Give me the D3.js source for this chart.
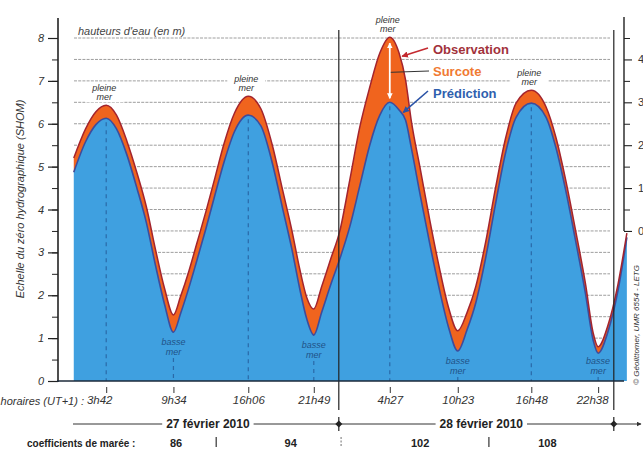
<!DOCTYPE html>
<html><head><meta charset="utf-8">
<script src="https://cdn.jsdelivr.net/npm/d3@7/dist/d3.min.js"></script>
<style>
body{margin:0;background:#fff}
svg{display:block}
text{font-family:"Liberation Sans",Arial,Helvetica,sans-serif}
</style>
</head><body>
<svg id="c" width="643" height="454"></svg>
<script>
// ---- data (hours since 27 Feb 2010 00:00, heights in m) ----
const heures = [0.87,1.90,2.80,3.70,4.60,5.50,6.40,7.20,8.00,8.80,9.567,10.20,10.90,11.60,12.40,13.20,14.00,14.90,16.10,
  17.20,18.20,19.10,19.90,20.60,21.20,21.817,22.50,23.30,24.09,24.96,25.83,26.70,27.58,28.45,
  29.26,29.83,30.32,31.13,31.94,32.76,33.57,34.383,35.20,35.95,36.80,37.69,38.58,39.47,40.80,
  42.09,42.94,43.80,44.66,45.52,46.20,46.633,47.49,48.36,49.14];
const observation = [5.20,5.88,6.28,6.43,6.20,5.60,4.84,4.07,3.07,2.15,1.54,1.98,2.55,3.20,3.95,4.75,5.55,6.25,6.64,
  6.35,5.50,4.45,3.52,2.60,1.95,1.68,2.20,2.85,3.50,4.69,5.92,6.85,7.65,8.02,
  7.65,7.02,6.08,4.92,3.75,2.66,1.72,1.17,1.60,2.20,3.22,4.52,5.69,6.48,6.78,
  6.39,5.69,4.69,3.52,2.28,1.12,0.80,1.30,2.25,3.45];
const prediction = [4.87,5.58,5.98,6.13,5.88,5.28,4.48,3.70,2.70,1.78,1.14,1.58,2.16,2.80,3.55,4.35,5.12,5.82,6.20,
  5.95,5.08,4.02,3.08,2.14,1.45,1.07,1.60,2.25,2.85,3.60,4.55,5.50,6.20,6.50,
  6.32,6.08,5.45,4.30,3.20,2.16,1.26,0.70,1.20,1.82,2.85,4.15,5.35,6.15,6.48,
  6.15,5.45,4.45,3.28,2.05,0.95,0.65,1.15,2.10,3.35];
const extremeHeures = [3.70,9.567,16.10,21.817,28.45,34.383,40.80,46.633];
const extremeLabels = ["3h42","9h34","16h06","21h49","4h27","10h23","16h48","22h38"];
const extremeTypes = ["pleine","basse","pleine","basse","pleine","basse","pleine","basse"];
const jours = ["27 février 2010","28 février 2010"];
const joursHeures = [0,24,48];
const coefficients = ["86","94","102","108"];
const coefHeures = [9.8,19.8,31.1,42.2];
const sepHeures = [13.3,24.2,37.1];
const yTicks = [0,1,2,3,4,5,6,7,8];
const yRightTicks = [0,1,2,3,4];

// ---- layout ----
const svg = d3.select("#c");
const x = d3.scaleLinear().domain([0,48]).range([63.8,613.8]);
const y = d3.scaleLinear().domain([0,8]).range([381,38]);
const yR = d3.scaleLinear().domain([0,4.5]).range([y(3.5),y(8)]);
const pts = heures.map((t,i)=>({t,o:observation[i],p:prediction[i]}));
const interp = (arr,t)=>{for(let i=0;i<heures.length-1;i++){if(t>=heures[i]&&t<=heures[i+1]){const f=(t-heures[i])/(heures[i+1]-heures[i]);return arr[i]+f*(arr[i+1]-arr[i]);}}return arr[arr.length-1];};

const defs = svg.append("defs");
function mk(id,color,w){
  defs.append("marker").attr("id",id).attr("viewBox","0 0 10 10").attr("refX",9).attr("refY",5)
    .attr("markerWidth",w).attr("markerHeight",w).attr("orient","auto-start-reverse")
    .append("path").attr("d","M0,0L10,5L0,10z").attr("fill",color);
}
mk("aRed","#c42a30",4);mk("aBlue","#2a52a6",4);mk("aWhite","#ffffff",3.2);mk("aDark","#333",5);

// grid
const gx0=74, gx1=610;
svg.append("g").selectAll("line").data(d3.range(0.5,8.01,0.5)).join("line")
  .attr("x1",gx0).attr("x2",gx1).attr("y1",d=>y(d)).attr("y2",d=>y(d))
  .attr("stroke","#858585").attr("stroke-width",0.8).attr("stroke-dasharray","3,1.2");

// pleine mer labels with white background (interrupt grid)
const lab = svg.append("g");
extremeHeures.forEach((t,i)=>{
  if(extremeTypes[i]!=="pleine") return;
  const cx = x(t)-2, yo = y(interp(observation,t));
  const b2 = yo-5, b1 = b2-9.5;
  lab.append("rect").attr("x",cx-19).attr("y",b1-8).attr("width",38).attr("height",b2-b1+10).attr("fill","#fff");
  lab.append("text").attr("x",cx).attr("y",b1).attr("text-anchor","middle").attr("font-size",9).attr("font-style","italic").attr("fill","#333").text("pleine");
  lab.append("text").attr("x",cx).attr("y",b2).attr("text-anchor","middle").attr("font-size",9).attr("font-style","italic").attr("fill","#333").text("mer");
});

// fills
svg.append("path").datum(pts).attr("fill","#3fa0e0")
  .attr("d",d3.area().x(d=>x(d.t)).y0(y(0)).y1(d=>y(d.p)).curve(d3.curveMonotoneX));
svg.append("path").datum(pts).attr("fill","#f0641e")
  .attr("d",d3.area().x(d=>x(d.t)).y0(d=>y(d.p)).y1(d=>y(d.o)).curve(d3.curveMonotoneX));
svg.append("path").datum(pts).attr("fill","none").attr("stroke","#3d4c9c").attr("stroke-width",1.6)
  .attr("d",d3.line().x(d=>x(d.t)).y(d=>y(d.p)).curve(d3.curveMonotoneX));
svg.append("path").datum(pts).attr("fill","none").attr("stroke","#a3242e").attr("stroke-width",1.5)
  .attr("d",d3.line().x(d=>x(d.t)).y(d=>y(d.o)).curve(d3.curveMonotoneX));

// vertical dashed lines and basse mer labels
extremeHeures.forEach((t,i)=>{
  const cx = x(t);
  const yp = y(interp(prediction,t));
  if(extremeTypes[i]==="pleine"){
    svg.append("line").attr("x1",cx).attr("x2",cx).attr("y1",yp+4).attr("y2",y(0))
      .attr("stroke","#2a69a8").attr("stroke-width",1.2).attr("stroke-dasharray","4,4");
  } else {
    const b1 = Math.min(yp+13,364), b2=b1+10;
    svg.append("text").attr("x",cx).attr("y",b1).attr("text-anchor","middle").attr("font-size",9).attr("font-style","italic").attr("fill","#1f5287").text("basse");
    svg.append("text").attr("x",cx).attr("y",b2).attr("text-anchor","middle").attr("font-size",9).attr("font-style","italic").attr("fill","#1f5287").text("mer");
    svg.append("line").attr("x1",cx).attr("x2",cx).attr("y1",b2+3).attr("y2",y(0))
      .attr("stroke","#2a69a8").attr("stroke-width",1.2).attr("stroke-dasharray","4,4");
  }
});

// surge white arrow at the big high tide
const tBig = extremeHeures[4];
svg.append("line").attr("x1",x(tBig)).attr("x2",x(tBig))
  .attr("y1",y(interp(observation,tBig))+6).attr("y2",y(interp(prediction,tBig))-4)
  .attr("stroke","#fff").attr("stroke-width",1.8)
  .attr("marker-start","url(#aWhite)").attr("marker-end","url(#aWhite)");

// annotations
const ann = svg.append("g").attr("font-size",13).attr("font-weight","bold");
ann.append("text").attr("x",433).attr("y",54).attr("fill","#a2323b").text("Observation");
ann.append("text").attr("x",433).attr("y",76).attr("fill","#f07a32").text("Surcote");
ann.append("text").attr("x",433).attr("y",98).attr("fill","#2f5fae").text("Prédiction");
const tO=29.35, tP=29.45;
svg.append("line").attr("x1",428).attr("y1",48).attr("x2",x(tO)+2).attr("y2",y(interp(observation,tO))-1)
  .attr("stroke","#c42a30").attr("stroke-width",1.6).attr("marker-end","url(#aRed)");
svg.append("line").attr("x1",429).attr("y1",71).attr("x2",x(tBig)+1).attr("y2",y(7.2))
  .attr("stroke","#333").attr("stroke-width",1);
svg.append("line").attr("x1",428).attr("y1",91).attr("x2",x(tP)+2).attr("y2",y(interp(prediction,tP))-1)
  .attr("stroke","#2a52a6").attr("stroke-width",1.6).attr("marker-end","url(#aBlue)");

// day boundary lines
[24,48].forEach(t=>{
  svg.append("line").attr("x1",x(t)).attr("x2",x(t)).attr("y1",30).attr("y2",410)
    .attr("stroke","#222").attr("stroke-width",1.2);
});

// left axis
const axL = svg.append("g").attr("transform","translate(58,0)")
  .call(d3.axisLeft(y).tickValues(yTicks).tickSize(10).tickPadding(4).tickFormat(d3.format("d")));
axL.select(".domain").remove();
axL.selectAll("line").attr("stroke","#222").attr("stroke-width",1.2);
axL.selectAll("text").attr("font-size",11).attr("font-style","italic").attr("fill","#333")
  .style("font-family","'Liberation Sans',Arial,sans-serif");
const axLm = svg.append("g").attr("transform","translate(58,0)")
  .call(d3.axisLeft(y).tickValues(d3.range(0.5,8,0.5)).tickSize(6).tickFormat(""));
axLm.select(".domain").remove();
axLm.selectAll("line").attr("stroke","#222").attr("stroke-width",1);
svg.append("line").attr("x1",58).attr("x2",58).attr("y1",y(0)+1).attr("y2",18).attr("stroke","#222").attr("stroke-width",1.6);
svg.append("line").attr("x1",57).attr("x2",624).attr("y1",y(0)).attr("y2",y(0)).attr("stroke","#1d2a3a").attr("stroke-width",1.6);

// right axis
const rx = 624;
svg.append("line").attr("x1",rx).attr("x2",rx).attr("y1",yR(0)).attr("y2",17).attr("stroke","#222").attr("stroke-width",1.4);
const axR = svg.append("g").attr("transform",`translate(${rx},0)`)
  .call(d3.axisRight(yR).tickValues(yRightTicks).tickSize(8).tickPadding(6).tickFormat(d3.format("d")));
axR.select(".domain").remove();
axR.selectAll("line").attr("stroke","#222").attr("stroke-width",1.1);
axR.selectAll("text").attr("font-size",11).attr("fill","#333").style("font-family","'Liberation Sans',Arial,sans-serif");
const axRm = svg.append("g").attr("transform",`translate(${rx},0)`)
  .call(d3.axisRight(yR).tickValues(d3.range(0.5,4.6,1)).tickSize(6).tickFormat(""));
axRm.select(".domain").remove();
axRm.selectAll("line").attr("stroke","#222").attr("stroke-width",1);

// titles
svg.append("text").attr("transform","translate(24,199) rotate(-90)").attr("text-anchor","middle")
  .attr("font-size",11).attr("font-style","italic").attr("fill","#333").text("Echelle du zéro hydrographique (SHOM)");
svg.append("text").attr("x",78).attr("y",35).attr("font-size",11).attr("font-style","italic").attr("fill","#444").text("hauteurs d'eau (en m)");
svg.append("text").attr("transform","translate(639,325) rotate(-90)").attr("text-anchor","middle")
  .attr("font-size",8).attr("font-style","italic").attr("fill","#333").text("© Géolittomer, UMR 6554 - LETG");

// time axis
const axB = svg.append("g").attr("transform","translate(0,387)")
  .call(d3.axisBottom(x).tickValues(extremeHeures).tickSize(6).tickPadding(3).tickFormat((d,i)=>extremeLabels[i]));
axB.select(".domain").remove();
axB.selectAll("line").attr("stroke","#333").attr("stroke-width",1);
axB.selectAll("text").attr("font-size",11.5).attr("font-style","italic").attr("fill","#333")
  .style("font-family","'Liberation Sans',Arial,sans-serif")
  .attr("dx",(d,i)=> i===0? -7 : (i===extremeLabels.length-1? -6 : 0));
svg.append("text").attr("x",84).attr("y",405).attr("text-anchor","end").attr("font-size",11).attr("font-style","italic").attr("fill","#333").text("horaires (UT+1) :");

// date row
const dy = 424;
const dayStart = [73, x(24)];
const dayEnd = [x(24), x(48)];
jours.forEach((j,i)=>{
  const cx = (dayStart[i]+dayEnd[i])/2 + (i===0?2:5);
  const tx = svg.append("text").attr("x",cx).attr("y",dy+4).attr("text-anchor","middle")
    .attr("font-size",12).attr("font-weight","bold").attr("fill","#222").text(j);
  const w = tx.node().getComputedTextLength();
  svg.append("line").attr("x1",dayStart[i]).attr("x2",cx-w/2-4).attr("y1",dy).attr("y2",dy).attr("stroke","#333").attr("stroke-width",1);
  svg.append("line").attr("x1",cx+w/2+4).attr("x2",dayEnd[i]).attr("y1",dy).attr("y2",dy).attr("stroke","#333").attr("stroke-width",1);
});
joursHeures.slice(1).forEach(t=>{
  const cx=x(t);
  svg.append("line").attr("x1",cx).attr("x2",cx).attr("y1",dy-7).attr("y2",dy+7).attr("stroke","#222").attr("stroke-width",1.2);
  svg.append("path").attr("d",`M${cx},${dy-3.5}L${cx+3.5},${dy}L${cx},${dy+3.5}L${cx-3.5},${dy}Z`).attr("fill","#222");
});
svg.append("line").attr("x1",x(48)).attr("x2",641).attr("y1",dy).attr("y2",dy).attr("stroke","#333").attr("stroke-width",1).attr("marker-end","url(#aDark)");

// coefficients row
const cy = 447;
svg.append("text").attr("x",27).attr("y",cy).attr("font-size",10).attr("font-weight","bold").attr("fill","#222").text("coefficients de marée :");
coefficients.forEach((c,i)=>{
  svg.append("text").attr("x",x(coefHeures[i])).attr("y",cy).attr("text-anchor","middle").attr("font-size",11).attr("font-weight","bold").attr("fill","#222").text(c);
});
sepHeures.forEach((t,i)=>{
  svg.append("line").attr("x1",x(t)).attr("x2",x(t)).attr("y1",cy-10).attr("y2",cy).attr("stroke",i===1?"#888":"#333").attr("stroke-width",1.2)
    .attr("stroke-dasharray",i===1?"2,1.5":null);
});
</script>
</body></html>
